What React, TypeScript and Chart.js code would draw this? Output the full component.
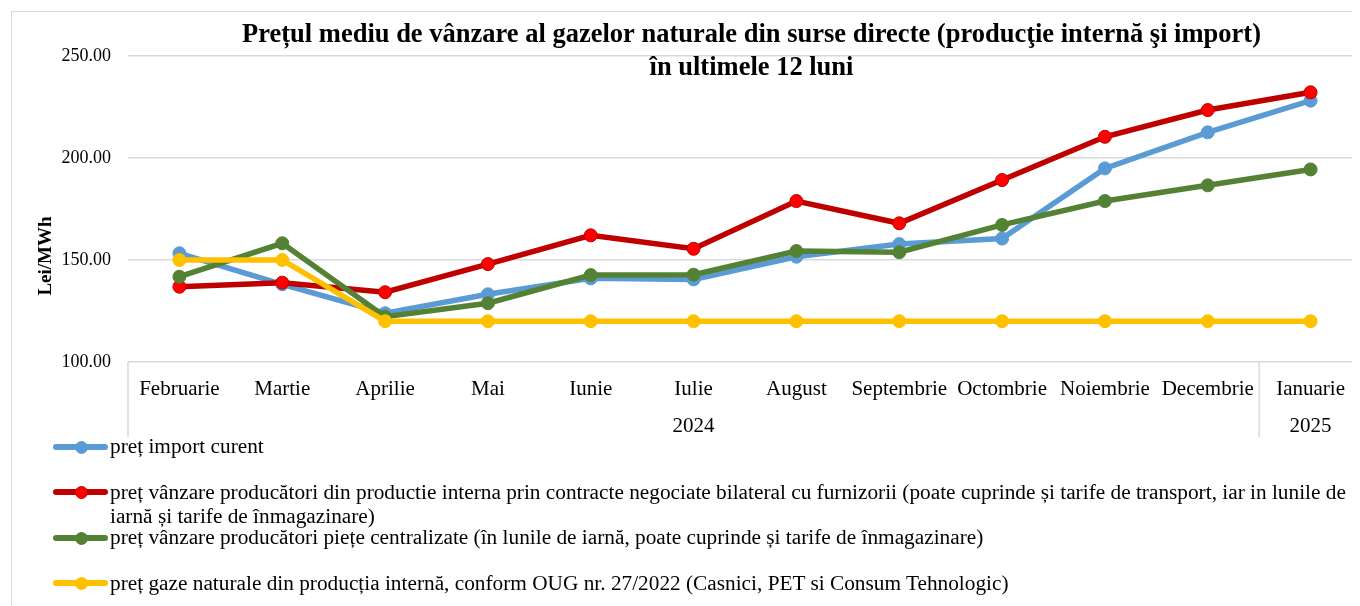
import React, { useEffect, useRef } from "react";
import { Chart, registerables } from "chart.js";

Chart.register(...registerables);

const months = ["Februarie", "Martie", "Aprilie", "Mai", "Iunie", "Iulie", "August", "Septembrie", "Octombrie", "Noiembrie", "Decembrie", "Ianuarie"];
const yearLabels = ["2024", "2025"];
const yearSpans = [11, 1];

const importCurent = [153.3, 138.1, 123.9, 133.2, 141.0, 140.5, 151.6, 157.8, 160.5, 194.9, 212.6, 228.1];
const productieBilateral = [136.9, 138.9, 134.2, 148.0, 162.1, 155.5, 178.9, 168.0, 189.2, 210.4, 223.5, 232.2];
const pieteCentralizate = [141.8, 158.2, 122.2, 128.8, 142.6, 142.8, 154.4, 153.8, 167.2, 178.9, 186.6, 194.4];
const productieOUG = [150, 150, 120, 120, 120, 120, 120, 120, 120, 120, 120, 120];

const yTicks = [100, 150, 200, 250];

const titleLines = [
  "Prețul mediu de vânzare al gazelor naturale din surse directe (producţie internă şi import)",
  "în ultimele 12 luni",
];
const yAxisTitle = "Lei/MWh";

const seriesNames = [
  "preț import curent",
  "preț vânzare producători din productie interna prin contracte negociate bilateral cu furnizorii (poate cuprinde și tarife de transport, iar in lunile de iarnă și tarife de înmagazinare)",
  "preț vânzare producători piețe centralizate (în lunile de iarnă, poate cuprinde și tarife de înmagazinare)",
  "preț gaze naturale din producția internă, conform OUG nr. 27/2022 (Casnici, PET si Consum Tehnologic)",
];

const lineColors = ["#5B9BD5", "#C00000", "#548235", "#FFC000"];
const markerFills = ["#5B9BD5", "#FF0000", "#548235", "#FFC000"];

const FONT = '"Liberation Serif", "Times New Roman", serif';

const overlayPlugin = {
  id: "overlay",
  afterDraw(chart: any) {
    const { ctx, chartArea, scales } = chart;
    const x = scales.x;
    ctx.save();
    // Title
    ctx.fillStyle = "#000";
    ctx.font = `bold 26.5px ${FONT}`;
    ctx.textAlign = "center";
    ctx.textBaseline = "alphabetic";
    titleLines.forEach((t, i) => ctx.fillText(t, 739.5, 30 + i * 33));

    // Y axis title
    ctx.save();
    ctx.translate(34, 244);
    ctx.rotate(-Math.PI / 2);
    ctx.font = `bold 19px ${FONT}`;
    ctx.textBaseline = "middle";
    ctx.fillText(yAxisTitle, 0, 0);
    ctx.restore();

    // Year groups
    const step = x.getPixelForValue(1) - x.getPixelForValue(0);
    const bottom = chart.height;
    ctx.strokeStyle = "#d9d9d9";
    ctx.lineWidth = 1.5;
    let idx = 0;
    const drawSep = (px: number) => {
      ctx.beginPath();
      ctx.moveTo(px, chartArea.bottom);
      ctx.lineTo(px, bottom);
      ctx.stroke();
    };
    drawSep(x.getPixelForValue(0) - step / 2);
    ctx.font = `21px ${FONT}`;
    ctx.textBaseline = "middle";
    yearLabels.forEach((lab, g) => {
      const start = x.getPixelForValue(idx) - step / 2;
      const end = x.getPixelForValue(idx + yearSpans[g] - 1) + step / 2;
      ctx.fillText(lab, (start + end) / 2, 414);
      drawSep(end);
      idx += yearSpans[g];
    });
    ctx.restore();
  },
};

export default function App() {
  const ref = useRef<HTMLCanvasElement>(null);

  useEffect(() => {
    if (!ref.current) return;
    const data = [importCurent, productieBilateral, pieteCentralizate, productieOUG];
    const chart = new Chart(ref.current, {
      type: "line",
      data: {
        labels: months,
        datasets: data.map((d, i) => ({
          label: seriesNames[i],
          data: d,
          borderColor: lineColors[i],
          backgroundColor: markerFills[i],
          pointBackgroundColor: markerFills[i],
          pointBorderColor: lineColors[i],
          pointBorderWidth: 1,
          pointRadius: 6.5,
          borderWidth: 5.5,
          tension: 0,
          order: 3 - i,
        })),
      },
      options: {
        responsive: false,
        animation: false,
        layout: { padding: { top: 44, right: 50, left: 0, bottom: 0 } },
        plugins: {
          legend: { display: false },
          title: { display: false },
          tooltip: { enabled: false },
        },
        scales: {
          x: {
            offset: true,
            grid: { display: false },
            border: { display: false },
            ticks: {
              color: "#000",
              font: { family: FONT, size: 21 },
              padding: 7,
              maxRotation: 0,
              autoSkip: false,
            },
            afterFit: (s: any) => {
              s.height = 75;
            },
          },
          y: {
            min: 100,
            max: 250,
            afterBuildTicks: (s: any) => {
              s.ticks = yTicks.map((v) => ({ value: v }));
            },
            grid: { color: "#d9d9d9", lineWidth: 1.5, drawTicks: false },
            border: { display: false },
            ticks: {
              color: "#000",
              font: { family: FONT, size: 18 },
              padding: 17,
              callback: (v: any) => Number(v).toFixed(2),
            },
            afterFit: (s: any) => {
              s.width = 116;
            },
          },
        },
      },
      plugins: [overlayPlugin],
    });
    return () => chart.destroy();
  }, []);

  return (
    <div style={{ width: 1352, overflow: "hidden" }}>
      <div style={{ marginLeft: 3, marginTop: 3, border: "1px solid #d9d9d9", width: 1500, fontFamily: FONT }}>
        <canvas ref={ref} width={1400} height={425} style={{ display: "block" }} />
        <div style={{ marginTop: -3, position: "relative" }}>
          {seriesNames.map((n, i) => (
            <div key={i} style={{ position: "relative", height: 45.5 }}>
              <div
                style={{
                  position: "absolute",
                  left: 41,
                  top: 9.5,
                  width: 55,
                  height: 6,
                  borderRadius: 3,
                  background: lineColors[i],
                }}
              />
              <div
                style={{
                  position: "absolute",
                  left: 62.5,
                  top: 6.5,
                  width: 11,
                  height: 11,
                  borderRadius: "50%",
                  background: markerFills[i],
                  border: `1px solid ${lineColors[i]}`,
                }}
              />
              <div
                style={{
                  position: "absolute",
                  left: 98,
                  top: 0,
                  width: 1250,
                  fontSize: 21.3,
                  lineHeight: "24.6px",
                  color: "#000",
                }}
              >
                {n}
              </div>
            </div>
          ))}
        </div>
      </div>
    </div>
  );
}
